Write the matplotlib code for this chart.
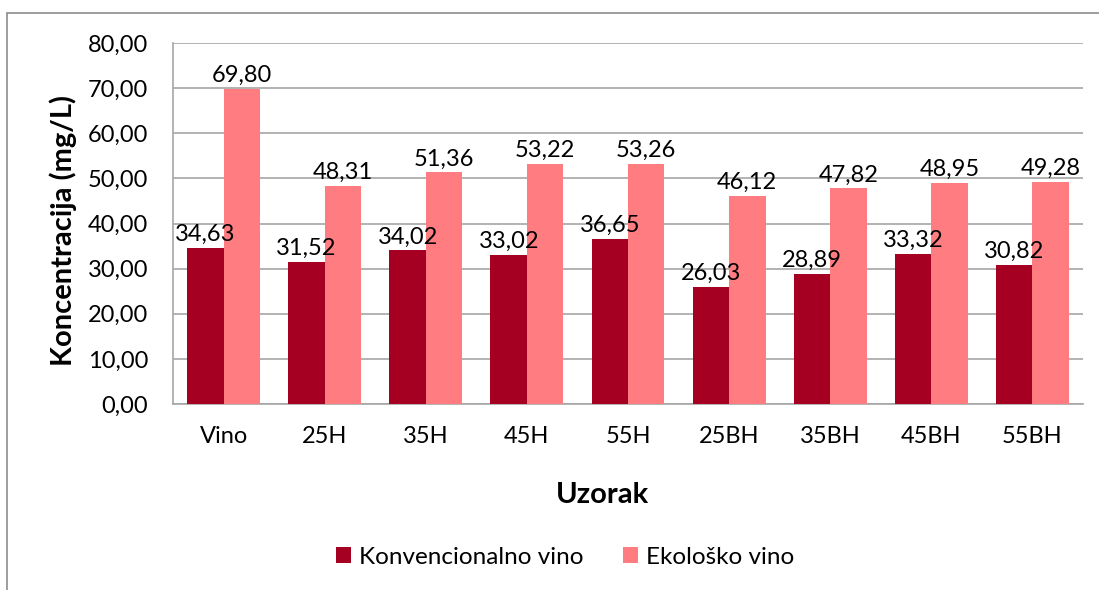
import numpy as np
import matplotlib
matplotlib.use("Agg")
import matplotlib.pyplot as plt
from matplotlib.patches import Rectangle

plt.rcParams['font.family'] = ['Lato', 'DejaVu Sans']

# Data
uzorci = ['Vino', '25H', '35H', '45H', '55H', '25BH', '35BH', '45BH', '55BH']
konvencionalno = [34.63, 31.52, 34.02, 33.02, 36.65, 26.03, 28.89, 33.32, 30.82]
ekolosko = [69.80, 48.31, 51.36, 53.22, 53.26, 46.12, 47.82, 48.95, 49.28]
series_names = ['Konvencionalno vino', 'Ekološko vino']
yticks = np.arange(0, 81, 10)

c_konv = '#A50021'
c_eko = '#FF7C80'
grid_c = '#A6A6A6'

W, H = 1099, 590


def fmt(v):
    return f'{v:.2f}'.replace('.', ',')


fig = plt.figure(figsize=(W / 100, H / 100), dpi=100)

# outer chart border (partly outside the picture, as in the reference)
fig.patches.append(Rectangle((7 / W, -0.1), 1.2, 1 - 13 / H + 0.1,
                             transform=fig.transFigure, fill=False,
                             edgecolor='#8C8C8C', linewidth=1.2))

ax = fig.add_axes([173 / W, 1 - 404 / H, (1083 - 173) / W, (404 - 43) / H])

x = np.arange(len(uzorci))
w = 0.36
b1 = ax.bar(x - w / 2, konvencionalno, w, color=c_konv, label=series_names[0], zorder=3)
b2 = ax.bar(x + w / 2, ekolosko, w, color=c_eko, label=series_names[1], zorder=3)

for bars, vals in ((b1, konvencionalno), (b2, ekolosko)):
    for r, v in zip(bars, vals):
        ax.annotate(fmt(v), (r.get_x() + r.get_width() / 2, v),
                    xytext=(0, 2), textcoords='offset points',
                    ha='center', va='bottom', fontsize=17, zorder=4)

ax.set_xlim(-0.5, len(uzorci) - 0.5)
ax.set_ylim(0, 80)
ax.set_yticks(yticks)
ax.set_yticklabels([fmt(t) for t in yticks], fontsize=17)
ax.set_xticks(x)
ax.set_xticklabels(uzorci, fontsize=17)
ax.tick_params(axis='x', length=0, pad=16)
ax.tick_params(axis='y', length=0, pad=18)

ax.grid(axis='y', color=grid_c, linewidth=1.2, zorder=0)
for s in ['top', 'right']:
    ax.spines[s].set_visible(False)
for s in ['left', 'bottom']:
    ax.spines[s].set_color(grid_c)
    ax.spines[s].set_linewidth(1.2)

# axis titles
fig.text(63 / W, 1 - 231 / H, 'Koncentracija (mg/L)', rotation=90,
         ha='center', va='center', fontsize=21, fontweight='bold')
fig.text(602 / W, 1 - 495 / H, 'Uzorak',
         ha='center', va='center', fontsize=21, fontweight='bold')

fig.legend(loc='center', bbox_to_anchor=(565 / W, 1 - 557 / H), ncol=2,
           frameon=False, fontsize=17.5, handlelength=0.62, handleheight=0.62,
           columnspacing=1.65, handletextpad=0.3)

fig.savefig('out.png', dpi=100)
